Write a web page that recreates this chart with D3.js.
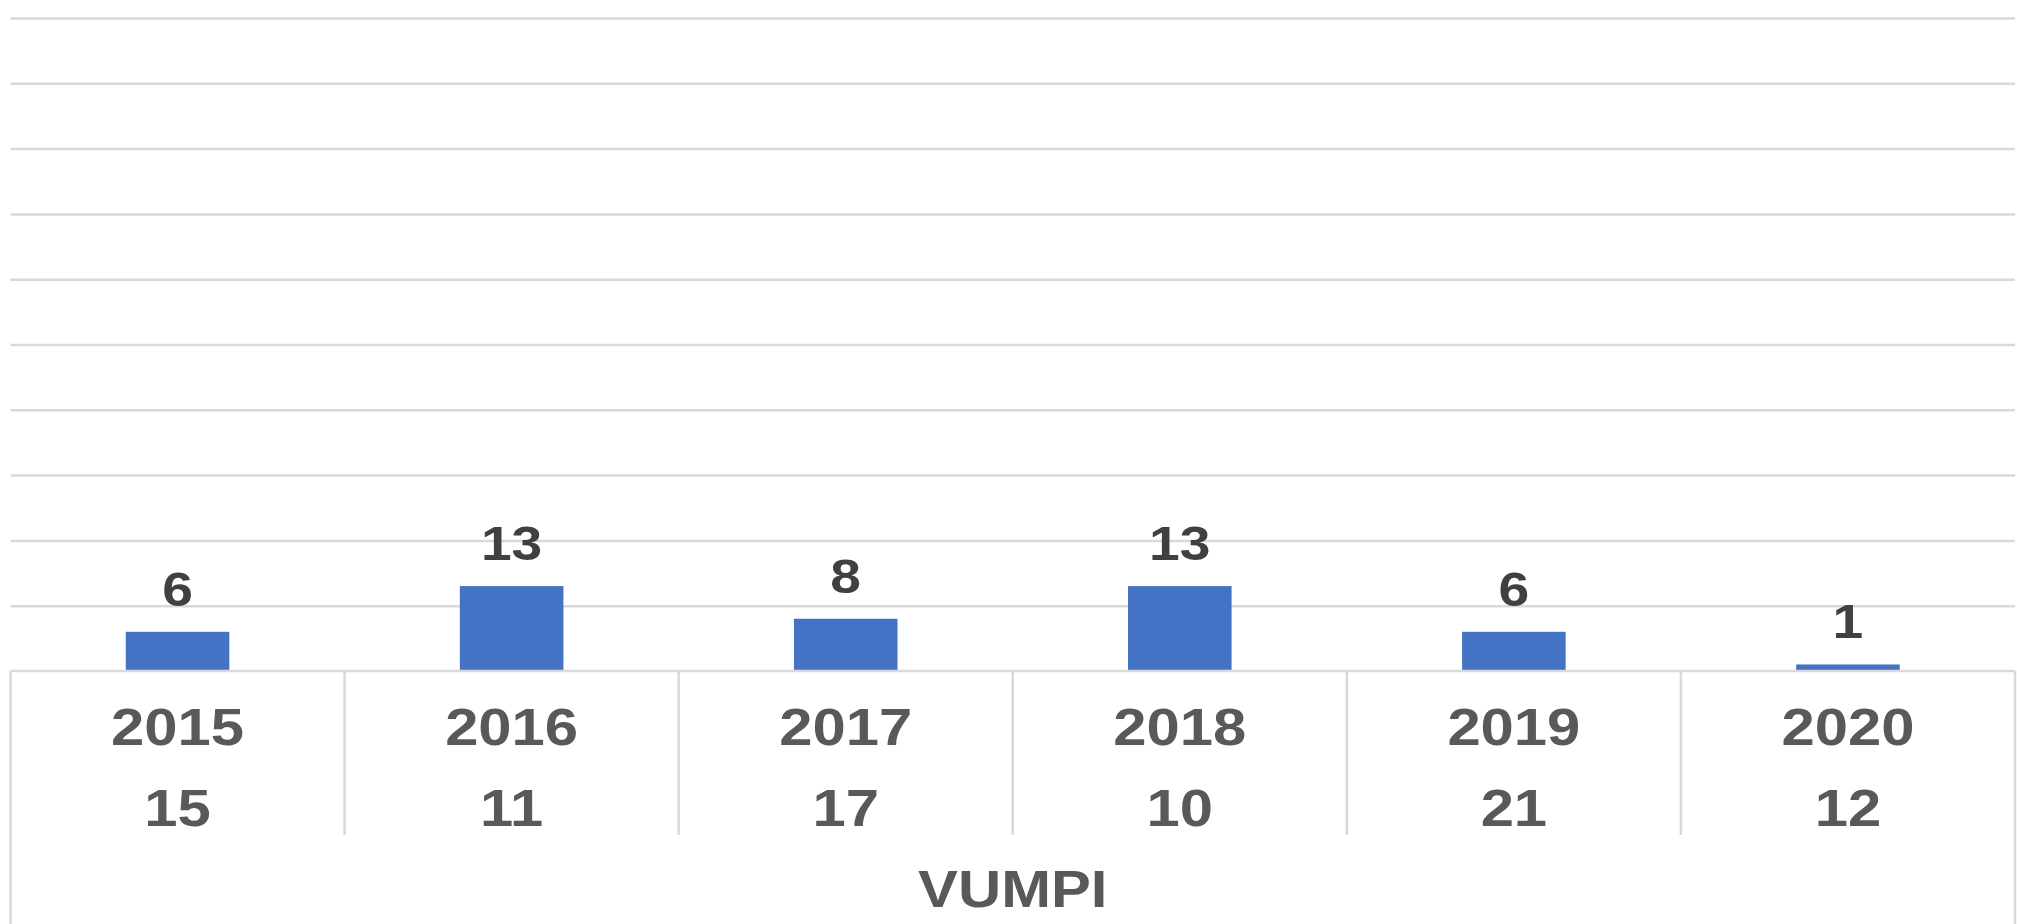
<!DOCTYPE html>
<html>
<head>
<meta charset="utf-8">
<script src="https://cdn.jsdelivr.net/npm/d3@7"></script>
<style>
  body { margin: 0; background: #fff; }
  text { font-family: "Liberation Sans", Arial, sans-serif; font-weight: bold; }
</style>
</head>
<body>
<div class="vumpi-plot"></div>
<script>
// data
const years = ['2015', '2016', '2017', '2018', '2019', '2020'];
const barValues = [6, 13, 8, 13, 6, 1];
const secondRow = ['15', '11', '17', '10', '21', '12'];
const groupLabel = 'VUMPI';
const gridTicks = [10, 20, 30, 40, 50, 60, 70, 80, 90, 100];

// CHART INIT
let outerWidth = 2017;
let outerHeight = 924;
let plot = {left: 10.5, right: 2015, top: 18, bottom: 671};
let stretch = 1.15; // labels in the picture are a bit wider than normal

let svg = d3.select('.vumpi-plot').append('svg')
    .attr('width', outerWidth)
    .attr('height', outerHeight);

// outer padding = half inner so every band sits centred in its cell
const xScale = d3.scaleBand()
    .domain(years)
    .range([plot.left, plot.right])
    .paddingInner(0.69)
    .paddingOuter(0.345);

const yScale = d3.scaleLinear()
    .domain([0, 100])
    .range([plot.bottom, plot.top]);

// gridlines
svg.append('g')
    .attr('class', 'grid')
    .attr('transform', `translate(${plot.left},0)`)
    .call(d3.axisLeft(yScale).tickValues(gridTicks).tickSize(-(plot.right - plot.left)).tickFormat(''))
    .call(g => g.select('.domain').remove())
    .call(g => g.selectAll('line').attr('stroke', '#d9d9d9').attr('stroke-width', 2.5));

// bars
svg.selectAll('rect.bar')
    .data(barValues)
    .enter()
    .append('rect')
    .attr('class', 'bar')
    .attr('fill', '#4472c4')
    .attr('x', (d, i) => xScale(years[i]))
    .attr('y', d => yScale(d))
    .attr('width', xScale.bandwidth())
    .attr('height', d => yScale(0) - yScale(d));

// bar value labels
svg.selectAll('text.value')
    .data(barValues)
    .enter()
    .append('text')
    .attr('class', 'value')
    .attr('text-anchor', 'middle')
    .attr('fill', '#404040')
    .attr('font-size', 48)
    .attr('transform', (d, i) => `translate(${xScale(years[i]) + xScale.bandwidth() / 2},${yScale(d) - 26}) scale(${stretch},1)`)
    .text(d => d);

// category table under the plot
const step = xScale.step();
const catX = i => plot.left + step * i;
const axisG = svg.append('g').attr('class', 'cat-axis').attr('stroke', '#d9d9d9').attr('stroke-width', 2.5);

axisG.append('line')
    .attr('x1', plot.left).attr('x2', plot.right)
    .attr('y1', yScale(0)).attr('y2', yScale(0));

// separators between years
axisG.selectAll('line.sep')
    .data(years.slice(1))
    .enter()
    .append('line')
    .attr('class', 'sep')
    .attr('x1', (d, i) => catX(i + 1)).attr('x2', (d, i) => catX(i + 1))
    .attr('y1', yScale(0)).attr('y2', 835);

// outer edges go down to the group label row
axisG.selectAll('line.edge')
    .data([plot.left, plot.right])
    .enter()
    .append('line')
    .attr('class', 'edge')
    .attr('x1', d => d).attr('x2', d => d)
    .attr('y1', yScale(0)).attr('y2', outerHeight);

svg.selectAll('text.year')
    .data(years)
    .enter()
    .append('text')
    .attr('class', 'year')
    .attr('text-anchor', 'middle')
    .attr('fill', '#595959')
    .attr('font-size', 52)
    .attr('transform', d => `translate(${xScale(d) + xScale.bandwidth() / 2},745) scale(${stretch},1)`)
    .text(d => d);

svg.selectAll('text.count')
    .data(secondRow)
    .enter()
    .append('text')
    .attr('class', 'count')
    .attr('text-anchor', 'middle')
    .attr('fill', '#595959')
    .attr('font-size', 52)
    .attr('transform', (d, i) => `translate(${xScale(years[i]) + xScale.bandwidth() / 2},826) scale(${stretch},1)`)
    .text(d => d);

svg.append('text')
    .attr('class', 'group')
    .attr('text-anchor', 'middle')
    .attr('fill', '#595959')
    .attr('font-size', 52)
    .attr('transform', `translate(${(plot.left + plot.right) / 2},907) scale(${stretch},1)`)
    .text(groupLabel);
</script>
</body>
</html>
